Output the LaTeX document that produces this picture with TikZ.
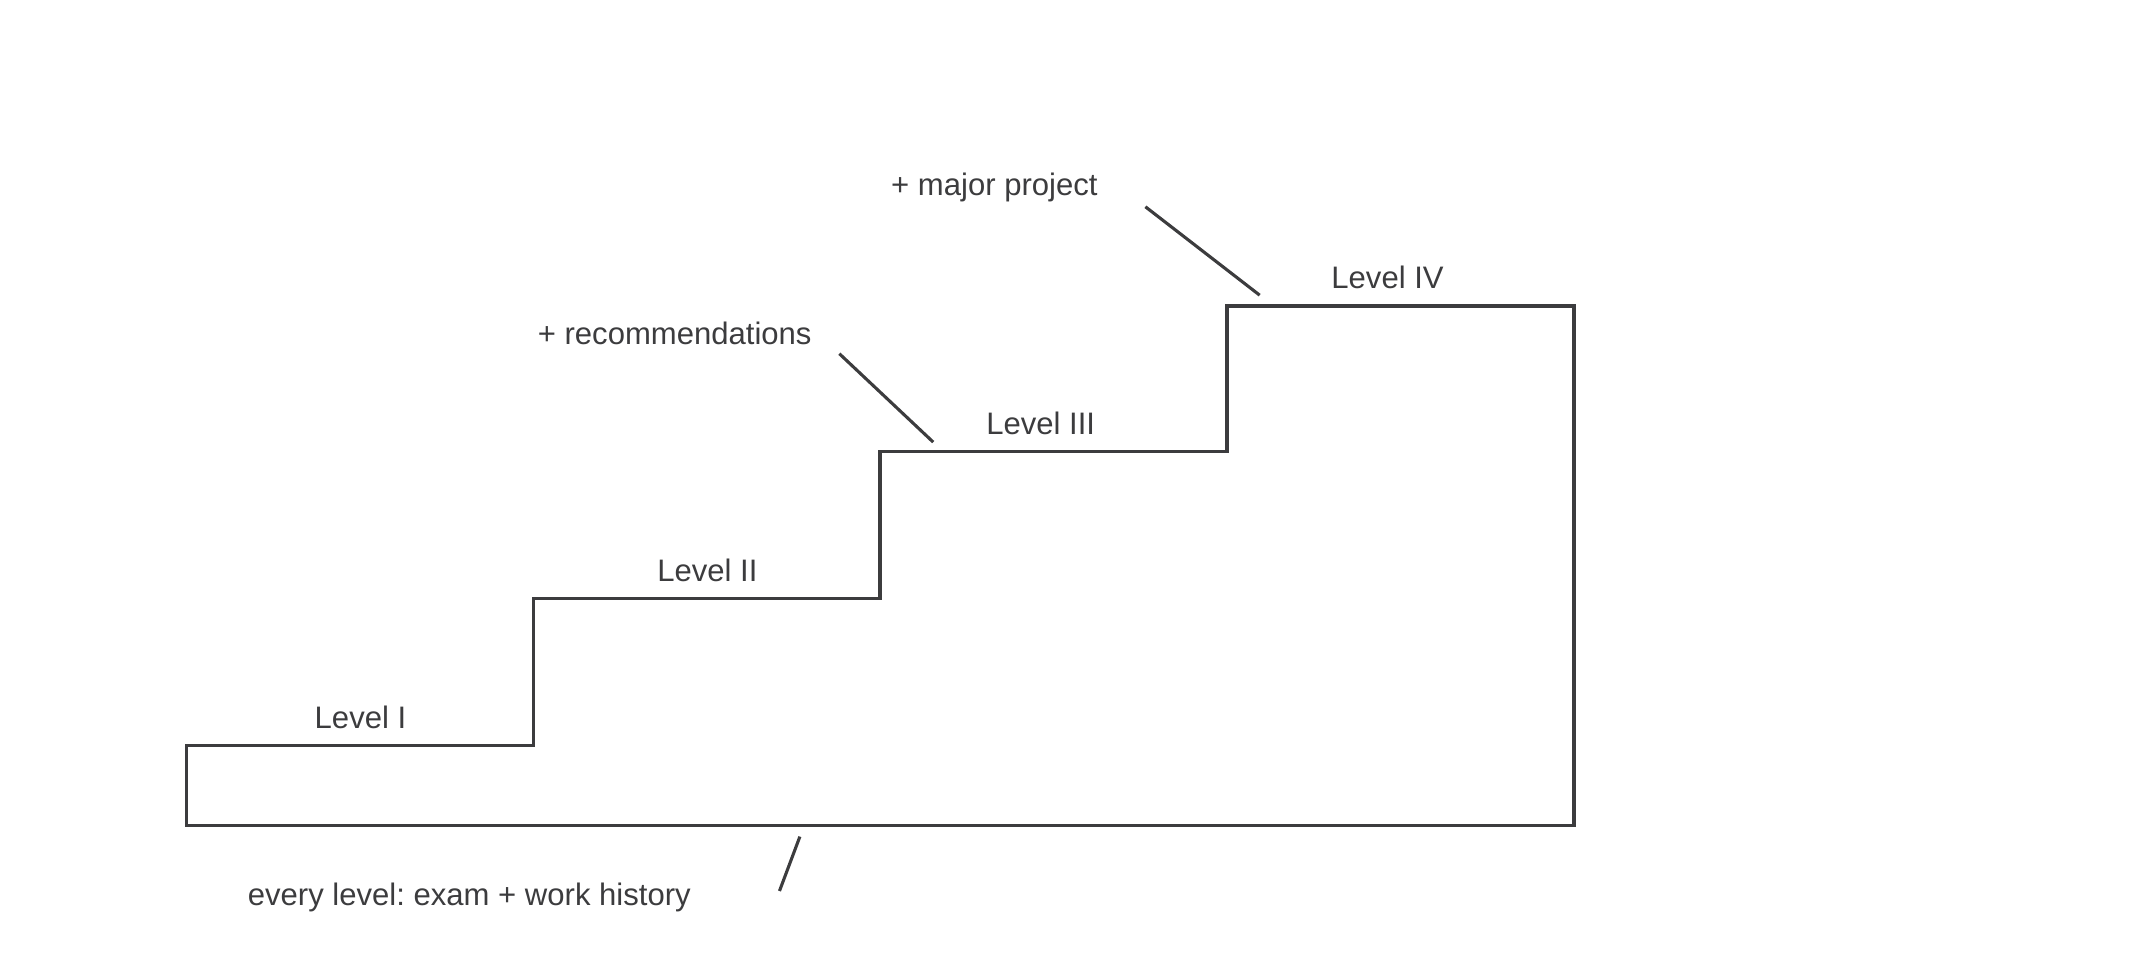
\documentclass[tikz,border=0pt]{standalone}
\usepackage{fontspec}
\setmainfont{Liberation Sans}
\definecolor{ink}{HTML}{3C3C3E}
\frenchspacing

\begin{document}
\begin{tikzpicture}[
    x=0.02cm,y=-0.02cm,
    stair/.style={draw=ink,line width=1.4pt,line join=miter},
    lbl/.style={text=ink,font=\fontsize{13}{15}\selectfont,inner sep=1pt},
    pointer/.style={draw=ink,line width=1.3pt},
]
    \useasboundingbox (0,0) rectangle (1568,705);
    % staircase
    \draw[stair] (137,607) -- (137,548) -- (392,548) -- (392,440) -- (647,440)
        -- (647,332) -- (902,332) -- (902,225) -- (1157,225) -- (1157,607) -- cycle;
    % step labels
    \node[lbl] (l1) at (265,527) {Level I};
    \node[lbl] (l2) at (520,419) {Level II};
    \node[lbl] (l3) at (765,311) {Level III};
    \node[lbl] (l4) at (1020,204) {Level IV};
    % notes
    \node[lbl] (proj) at (731,138) {+ major project};
    \node[lbl] (rec) at (496,245) {+ recommendations};
    \node[lbl] (every) at (345,660) {every level: exam + work history};
    \coordinate (projA) at (842,152);
    \coordinate (projB) at (926,217);
    \coordinate (recA) at (617,260);
    \coordinate (recB) at (686,325);
    \coordinate (evA) at (588,615);
    \coordinate (evB) at (573,655);
    \draw[pointer] (projA) -- (projB);
    \draw[pointer] (recA) -- (recB);
    \draw[pointer] (evA) -- (evB);
\end{tikzpicture}
\end{document}
